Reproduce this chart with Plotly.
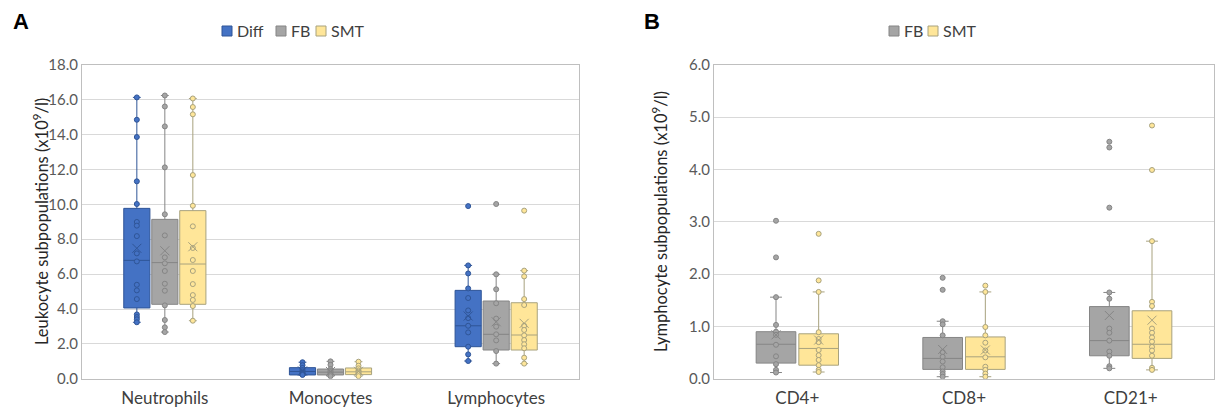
import plotly.graph_objects as go

# ---------------- data: panel A (leukocytes) ----------------
leuko_categories = ["Neutrophils", "Monocytes", "Lymphocytes"]

diff_points = [
    [16.13, 14.85, 13.86, 11.32, 10.02, 8.99, 8.78, 8.18, 7.19, 6.73, 5.39, 5.07, 4.57, 3.69, 3.54, 3.41, 3.24],
    [0.95, 0.78, 0.62, 0.50, 0.42, 0.35, 0.28, 0.22],
    [9.90, 6.50, 6.04, 5.18, 4.63, 3.92, 3.48, 3.04, 2.66, 1.84, 1.40, 1.02],
]
fb_points_a = [
    [16.24, 15.61, 14.47, 12.12, 9.43, 8.22, 6.96, 6.62, 6.18, 5.45, 5.05, 4.21, 3.37, 2.95, 2.68],
    [1.00, 0.80, 0.55, 0.45, 0.38, 0.30, 0.22, 0.15],
    [10.02, 5.99, 5.13, 4.33, 3.45, 2.99, 2.55, 2.20, 1.59, 0.87],
]
smt_points_a = [
    [16.07, 15.58, 15.16, 11.68, 9.92, 8.74, 7.50, 6.81, 6.18, 5.43, 4.80, 4.52, 4.17, 3.33],
    [0.98, 0.75, 0.60, 0.48, 0.40, 0.32, 0.26, 0.15],
    [9.64, 6.20, 5.87, 4.57, 4.23, 3.04, 2.80, 2.49, 2.22, 1.98, 1.75, 1.21, 0.87],
]

diff_low = [3.24, 0.20, 1.02]
diff_q1 = [4.06, 0.22, 1.84]
diff_med = [6.79, 0.42, 3.04]
diff_q3 = [9.77, 0.64, 5.07]
diff_high = [16.13, 0.95, 6.50]
diff_mean = [7.48, 0.45, 3.60]

fb_low_a = [2.68, 0.15, 0.87]
fb_q1_a = [4.27, 0.22, 1.65]
fb_med_a = [6.66, 0.38, 2.55]
fb_q3_a = [9.14, 0.56, 4.46]
fb_high_a = [16.24, 1.00, 5.99]
fb_mean_a = [7.34, 0.42, 3.27]

smt_low_a = [3.33, 0.15, 0.87]
smt_q1_a = [4.27, 0.24, 1.65]
smt_med_a = [6.58, 0.40, 2.51]
smt_q3_a = [9.64, 0.62, 4.36]
smt_high_a = [16.07, 0.98, 6.20]
smt_mean_a = [7.57, 0.43, 3.18]

# ---------------- data: panel B (lymphocytes) ----------------
lympho_categories = ["CD4+", "CD8+", "CD21+"]

fb_points_b = [
    [3.02, 2.32, 1.56, 1.03, 0.90, 0.84, 0.65, 0.43, 0.28, 0.17, 0.12],
    [1.93, 1.70, 1.10, 1.04, 0.83, 0.51, 0.42, 0.33, 0.22, 0.14, 0.09, 0.04],
    [4.53, 4.42, 3.27, 1.65, 1.53, 0.96, 0.88, 0.73, 0.52, 0.44, 0.24, 0.20],
]
smt_points_b = [
    [2.77, 1.88, 1.66, 0.89, 0.76, 0.70, 0.55, 0.45, 0.36, 0.26, 0.17, 0.13],
    [1.78, 1.66, 0.99, 0.83, 0.69, 0.54, 0.41, 0.23, 0.17, 0.10, 0.04],
    [4.84, 3.99, 2.63, 1.47, 1.39, 0.96, 0.88, 0.79, 0.71, 0.61, 0.54, 0.44, 0.21, 0.17],
]

fb_low_b = [0.12, 0.04, 0.20]
fb_q1_b = [0.30, 0.18, 0.44]
fb_med_b = [0.66, 0.39, 0.73]
fb_q3_b = [0.90, 0.79, 1.38]
fb_high_b = [1.56, 1.10, 1.65]
fb_mean_b = [0.84, 0.56, 1.21]

smt_low_b = [0.13, 0.04, 0.17]
smt_q1_b = [0.26, 0.18, 0.39]
smt_med_b = [0.58, 0.42, 0.66]
smt_q3_b = [0.86, 0.80, 1.30]
smt_high_b = [1.66, 1.66, 2.63]
smt_mean_b = [0.74, 0.55, 1.12]

# ---------------- styles ----------------
DIFF_FILL, DIFF_LINE = "#4472C4", "#2F5597"
FB_FILL, FB_LINE = "#A5A5A5", "#858585"
SMT_FILL, SMT_LINE = "#FFE699", "#A8A27E"
FONT = "Lato, 'Open Sans', sans-serif"

fig = go.Figure()


def add_series(name, fill, line, offset, width, low, q1, med, q3, high, mean, pts,
               xaxis, yaxis, psize):
    n = len(q1)
    xs = [i + offset for i in range(n)]
    fig.add_trace(go.Box(
        name=name, x=xs, q1=q1, median=med, q3=q3, lowerfence=low, upperfence=high,
        width=width, fillcolor=fill, line=dict(color=line, width=1),
        whiskerwidth=0.3, boxpoints=False, xaxis=xaxis, yaxis=yaxis,
        showlegend=False, hoverinfo="skip"))
    px, py = [], []
    for i, p in enumerate(pts):
        px += [i + offset] * len(p)
        py += p
    fig.add_trace(go.Scatter(
        x=px, y=py, mode="markers", xaxis=xaxis, yaxis=yaxis, showlegend=False,
        marker=dict(size=psize, color=fill, line=dict(color=line, width=1)),
        hoverinfo="skip"))
    fig.add_trace(go.Scatter(
        x=xs, y=mean, mode="markers", xaxis=xaxis, yaxis=yaxis, showlegend=False,
        marker=dict(symbol="x-thin-open", size=9, color=line, line=dict(color=line, width=1)),
        hoverinfo="skip"))


# Panel A
wA, dA = 0.158, 0.169
add_series("Diff", DIFF_FILL, DIFF_LINE, -dA, wA, diff_low, diff_q1, diff_med, diff_q3,
           diff_high, diff_mean, diff_points, "x", "y", 5)
add_series("FB", FB_FILL, FB_LINE, 0.0, wA, fb_low_a, fb_q1_a, fb_med_a, fb_q3_a,
           fb_high_a, fb_mean_a, fb_points_a, "x", "y", 5)
add_series("SMT", SMT_FILL, SMT_LINE, dA, wA, smt_low_a, smt_q1_a, smt_med_a, smt_q3_a,
           smt_high_a, smt_mean_a, smt_points_a, "x", "y", 5)

# Panel B
wB, dB = 0.238, 0.128
add_series("FB", FB_FILL, FB_LINE, -dB, wB, fb_low_b, fb_q1_b, fb_med_b, fb_q3_b,
           fb_high_b, fb_mean_b, fb_points_b, "x2", "y2", 5)
add_series("SMT", SMT_FILL, SMT_LINE, dB, wB, smt_low_b, smt_q1_b, smt_med_b, smt_q3_b,
           smt_high_b, smt_mean_b, smt_points_b, "x2", "y2", 5)

W, H = 1215, 412
top_px, bot_px = 64.8, 378.8
ydom = [1 - bot_px / H, 1 - top_px / H]

line_common = dict(showline=True, linecolor="#BFBFBF", linewidth=1, mirror=True,
                   zeroline=False, ticks="", automargin=False)
ytick_font = dict(family=FONT, size=15, color="#595959")
xtick_font = dict(family=FONT, size=17, color="#404040")
title_font = dict(family=FONT, size=16.5, color="#262626")

# Legends (Excel-style small squares), one per panel
legend_items = [
    # (name, fill, edge, square-left px, centre-y px)
    ("Diff", DIFF_FILL, DIFF_LINE, 222, 31),
    ("FB", FB_FILL, FB_LINE, 276, 31),
    ("SMT", SMT_FILL, SMT_LINE, 316, 31),
    ("FB", FB_FILL, FB_LINE, 889, 31),
    ("SMT", SMT_FILL, SMT_LINE, 928, 31),
]
shapes, annotations = [], []
for name, fill, edge, lx, cy in legend_items:
    shapes.append(dict(type="rect", xref="paper", yref="paper",
                       x0=lx / W, x1=(lx + 10) / W, y0=1 - (cy + 5) / H, y1=1 - (cy - 5) / H,
                       fillcolor=fill, line=dict(color=edge, width=1)))
    annotations.append(dict(text=name, x=(lx + 13) / W, y=1 - cy / H, xref="paper", yref="paper",
                            xanchor="left", yanchor="middle", showarrow=False,
                            font=dict(family=FONT, size=16, color="#404040")))

annotations += [
    dict(text="<b>A</b>", x=11 / W, y=1 - 22 / H, xref="paper", yref="paper",
         xanchor="left", yanchor="middle", showarrow=False,
         font=dict(family="Liberation Sans, Arial", size=22, color="black")),
    dict(text="<b>B</b>", x=642 / W, y=1 - 22 / H, xref="paper", yref="paper",
         xanchor="left", yanchor="middle", showarrow=False,
         font=dict(family="Liberation Sans, Arial", size=22, color="black")),
    dict(text="Leukocyte subpopulations (x10<sup>9</sup>/l)", textangle=-90,
         x=41 / W, y=1 - 222 / H, xref="paper", yref="paper",
         xanchor="center", yanchor="middle", showarrow=False, font=title_font),
    dict(text="Lymphocyte subpopulations (x10<sup>9</sup>/l)", textangle=-90,
         x=660 / W, y=1 - 222 / H, xref="paper", yref="paper",
         xanchor="center", yanchor="middle", showarrow=False, font=title_font),
]

fig.update_layout(
    width=W, height=H, margin=dict(l=0, r=0, t=0, b=0, autoexpand=False),
    paper_bgcolor="white", plot_bgcolor="white", showlegend=False,
    font=dict(family=FONT, color="#404040"),
    xaxis=dict(domain=[82 / W, 579 / W], range=[-0.5, 2.5], tickvals=[0, 1, 2],
               ticktext=leuko_categories, showgrid=False, anchor="y",
               tickfont=xtick_font, ticklabelstandoff=4, **line_common),
    yaxis=dict(domain=ydom, range=[0, 18], dtick=2, tickformat=".1f", anchor="x",
               showgrid=True, gridcolor="#D9D9D9", gridwidth=1, tickfont=ytick_font,
               **line_common),
    xaxis2=dict(domain=[714 / W, 1214 / W], range=[-0.5, 2.5], tickvals=[0, 1, 2],
                ticktext=lympho_categories, showgrid=False, anchor="y2",
                tickfont=xtick_font, ticklabelstandoff=4, **line_common),
    yaxis2=dict(domain=ydom, range=[0, 6], dtick=1, tickformat=".1f", anchor="x2",
                showgrid=True, gridcolor="#D9D9D9", gridwidth=1, tickfont=ytick_font,
                **line_common),
    shapes=shapes,
    annotations=annotations,
)

fig.write_html("out.html")
